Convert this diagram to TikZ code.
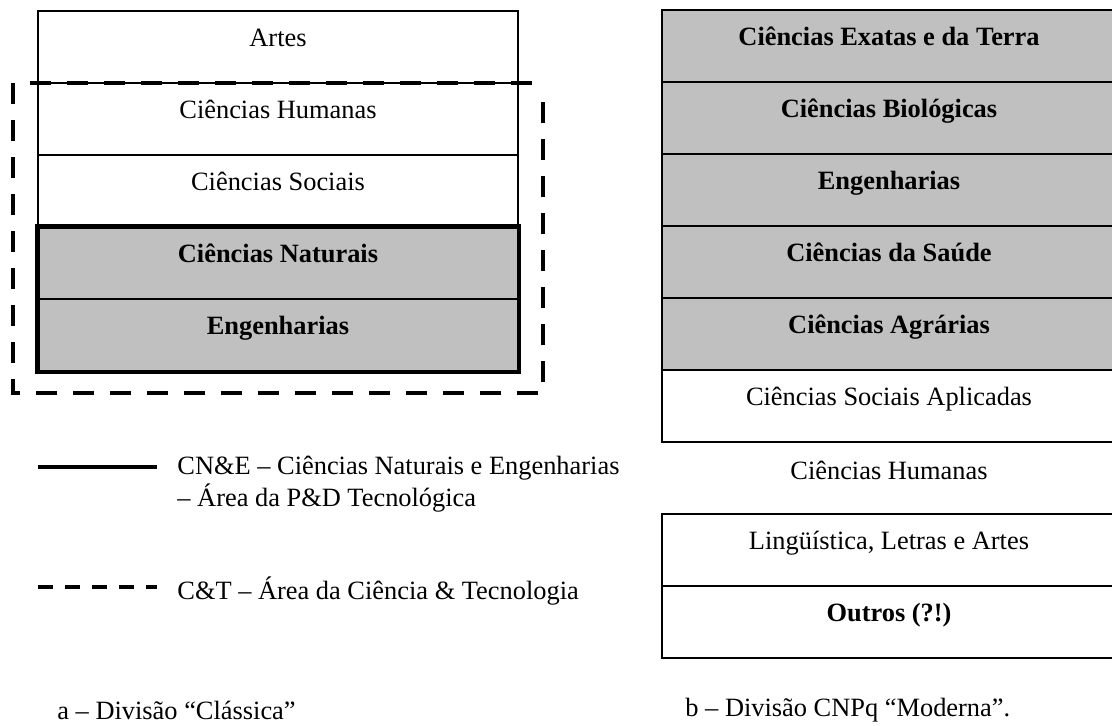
\documentclass[tikz,border=0pt]{standalone}
\usepackage{fontspec}
\setmainfont{Liberation Serif}
\definecolor{areagray}{RGB}{192,192,192}

\begin{document}
\begin{tikzpicture}[x=0.5pt, y=-0.5pt,
  every node/.style={font=\fontsize{13.2}{16}\selectfont},
  area/.style={draw, line width=0.8pt, minimum width=240pt, minimum height=36pt,
    inner sep=0pt, text height=9pt, text depth=10pt},
  cnpq/.style={area, line width=1.3pt, minimum width=227pt},
  shaded/.style={fill=areagray, font=\fontsize{13.2}{16}\selectfont\bfseries},
  boldtext/.style={font=\fontsize{13.2}{16}\selectfont\bfseries},
  pdline/.style={line width=2.3pt},
  ctline/.style={line width=2pt, dash pattern=on 10.5pt off 8pt},
  ctkey/.style={line width=2pt, dash pattern=on 7.5pt off 6pt},
]
\useasboundingbox (0,0) rectangle (1112,725);

% a - divisao classica
\node[area] (artes) at (278,47) {Artes};
\node[area] (hum) at (278,119) {Ciências Humanas};
\node[area] (soc) at (278,191) {Ciências Sociais};
\node[area, shaded] (nat) at (278,263) {Ciências Naturais};
\node[area, shaded] (eng) at (278,335) {Engenharias};
\draw[pdline] (nat.north west) rectangle (eng.south east);
\draw[ctline] (13,83) -- (13,393) -- (543,393) -- (543,93);
\draw[ctline] (30,83) -- (538,83);

% b - divisao CNPq
\node[cnpq, shaded] (exatas) at (889,46) {Ciências Exatas e da Terra};
\node[cnpq, shaded] (bio) at (889,118) {Ciências Biológicas};
\node[cnpq, shaded] (engr) at (889,190) {Engenharias};
\node[cnpq, shaded] (saude) at (889,262) {Ciências da Saúde};
\node[cnpq, shaded] (agr) at (889,334) {Ciências Agrárias};
\node[cnpq] (socapl) at (889,406) {Ciências Sociais Aplicadas};
\node (humr) at (889,470) {Ciências Humanas};
\node[cnpq] (letras) at (889,550) {Lingüística, Letras e Artes};
\node[cnpq, boldtext] (outros) at (889,622) {Outros (?!)};

% legenda
\coordinate (pdA) at (38,467);
\coordinate (pdB) at (157,467);
\draw[pdline] (pdA) -- (pdB);
\node[anchor=west, align=left, inner sep=0pt] (pdkey) at (177,484)
  {CN\&E -- Ciências Naturais e Engenharias\\-- Área da P\&D Tecnológica};
\coordinate (ctA) at (38,587);
\coordinate (ctB) at (157,587);
\draw[ctkey] (ctA) -- (ctB);
\node[anchor=west, inner sep=0pt] (ctkeytext) at (177,591)
  {C\&T -- Área da Ciência \& Tecnologia};

% legendas das figuras
\node[anchor=west, inner sep=0pt] (capa) at (57,710) {a -- Divisão ``Clássica''};
\node[anchor=west, inner sep=0pt] (capb) at (685,710) {b -- Divisão CNPq ``Moderna''.};
\end{tikzpicture}
\end{document}
